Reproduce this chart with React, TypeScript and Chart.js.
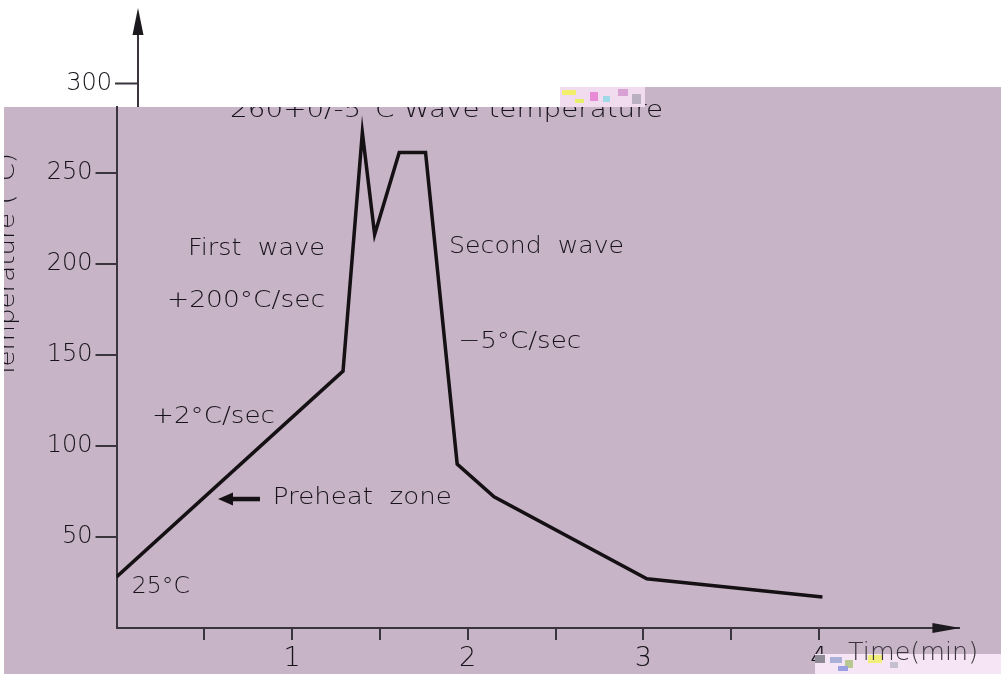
import React, { useEffect, useRef } from "react";
import { Chart, registerables } from "chart.js";

Chart.register(...registerables);

// ---- data ----
const timeMin = [0, 1.29, 1.4, 1.47, 1.61, 1.76, 1.94, 2.15, 3.02, 4.02];
const tempC = [28, 141, 272, 216, 261, 261, 90, 72, 27, 17];
const xTickValues = [0.5, 1, 1.5, 2, 2.5, 3, 3.5, 4];
const xTickLabels = ["", "1", "", "2", "", "3", "", "4"];
const yTickValues = [50, 100, 150, 200, 250];
const yTopTick = 300;
const noteTexts = [
  "First  wave",
  "+200°C/sec",
  "+2°C/sec",
  "Second  wave",
  "−5°C/sec",
  "Preheat  zone",
  "25°C",
  "260+0/-5°C Wave temperature",
];
const noteX = [0.407, 0.288, 0.202, 1.894, 1.946, 0.89, 0.087, 0.647];
const noteY = [204.7, 176, 112.7, 206, 153.5, 68.1, 19.4, 280.5];
const arrowFrom = { x: 0.817, y: 70.8 };
const arrowTo = { x: 0.578, y: 70.8 };
const xTitle = "Time(min)";
const yTitle = "Temperature (°C)";

// ---- styles (drawing only) ----
const noteWidths = [137, 158, 123, 175, 123, 179, 58, 433];
const MAUVE = "#c7b4c6";
const INK = "#17131a";
const FONT = "'DejaVu Sans'";
const W = "200";

function drawFitted(
  ctx: CanvasRenderingContext2D,
  text: string,
  x: number,
  y: number,
  w: number,
  size: number
) {
  ctx.save();
  ctx.font = `${W} ${size}px ${FONT}`;
  const m = ctx.measureText(text).width || 1;
  ctx.translate(x, y);
  ctx.scale(w / m, 1);
  ctx.textAlign = "left";
  ctx.textBaseline = "alphabetic";
  ctx.fillText(text, 0, 0);
  ctx.restore();
}

const decor = {
  id: "decor",
  beforeDraw(chart: any) {
    const ctx: CanvasRenderingContext2D = chart.ctx;
    const xs = chart.scales.x;
    const ys = chart.scales.y;
    ctx.save();
    ctx.fillStyle = "#ffffff";
    ctx.fillRect(0, 0, chart.width, chart.height);
    ctx.fillStyle = MAUVE;
    ctx.fillRect(4, 107, chart.width - 4, chart.height - 107);
    ctx.fillRect(645, 87, chart.width - 645, 20);

    // annotations
    ctx.fillStyle = INK;
    noteTexts.forEach((t, i) => {
      drawFitted(ctx, t, xs.getPixelForValue(noteX[i]), ys.getPixelForValue(noteY[i]), noteWidths[i], 23);
    });
    // cover top of header text
    ctx.fillStyle = "#ffffff";
    ctx.fillRect(200, 80, 360, 27);
    // noisy patch
    ctx.fillStyle = "#f1dcef";
    ctx.fillRect(560, 87, 85, 20);
    const bits: [string, number, number, number, number][] = [
      ["#f4ef6a", 562, 90, 14, 5],
      ["#e98ad6", 590, 92, 8, 9],
      ["#9fd8e6", 603, 96, 7, 6],
      ["#d7a1d3", 618, 89, 10, 7],
      ["#b9b0c2", 632, 94, 9, 10],
      ["#e6f06a", 575, 99, 9, 4],
    ];
    bits.forEach(([c, x, y, w, h]) => {
      ctx.fillStyle = c;
      ctx.fillRect(x, y, w, h);
    });

    // left rotated title
    ctx.fillStyle = INK;
    ctx.save();
    ctx.translate(14, 378);
    ctx.rotate(-Math.PI / 2);
    drawFitted(ctx, yTitle, 0, 0, 225, 23);
    ctx.restore();
    ctx.fillStyle = "#ffffff";
    ctx.fillRect(0, 100, 4, chart.height);
    ctx.restore();
  },
  afterDraw(chart: any) {
    const ctx: CanvasRenderingContext2D = chart.ctx;
    const ys = chart.scales.y;
    const xs = chart.scales.x;
    const area = chart.chartArea;
    ctx.save();
    // x axis arrow head
    ctx.fillStyle = "#1d1a1f";
    ctx.beginPath();
    ctx.moveTo(area.right + 1, area.bottom);
    ctx.lineTo(area.right - 27, area.bottom - 5);
    ctx.lineTo(area.right - 27, area.bottom + 5);
    ctx.closePath();
    ctx.fill();

    // upper axis fragment (shifted)
    const ux = 138;
    const ty = ys.getPixelForValue(yTopTick) + 2;
    ctx.strokeStyle = "#3a353c";
    ctx.lineWidth = 2;
    ctx.beginPath();
    ctx.moveTo(ux, 107);
    ctx.lineTo(ux, 30);
    ctx.moveTo(115, ty);
    ctx.lineTo(ux, ty);
    ctx.stroke();
    ctx.fillStyle = "#1d1a1f";
    ctx.beginPath();
    ctx.moveTo(ux, 8);
    ctx.lineTo(ux - 5.5, 35);
    ctx.lineTo(ux + 5.5, 35);
    ctx.closePath();
    ctx.fill();
    ctx.fillStyle = INK;
    ctx.font = `${W} 24px ${FONT}`;
    ctx.textAlign = "right";
    ctx.textBaseline = "middle";
    ctx.fillText(String(yTopTick), 112, ty);

    // preheat arrow
    const ax0 = xs.getPixelForValue(arrowFrom.x);
    const ay = ys.getPixelForValue(arrowFrom.y);
    const ax1 = xs.getPixelForValue(arrowTo.x);
    ctx.strokeStyle = "#141014";
    ctx.lineWidth = 4.5;
    ctx.beginPath();
    ctx.moveTo(ax0, ay);
    ctx.lineTo(ax1 + 12, ay);
    ctx.stroke();
    ctx.fillStyle = "#141014";
    ctx.beginPath();
    ctx.moveTo(ax1, ay);
    ctx.lineTo(ax1 + 15, ay - 6.5);
    ctx.lineTo(ax1 + 15, ay + 6.5);
    ctx.closePath();
    ctx.fill();

    // bottom-right noisy patch
    ctx.fillStyle = "#f6e6f5";
    ctx.fillRect(815, 654, chart.width - 815, chart.height - 654);
    const bits: [string, number, number, number, number][] = [
      ["#8e8a96", 815, 655, 10, 8],
      ["#aab0d8", 830, 657, 12, 6],
      ["#b8c890", 845, 660, 8, 8],
      ["#f1ee7a", 868, 655, 14, 8],
      ["#c6bfd0", 890, 662, 8, 6],
      ["#9aa0e0", 838, 666, 10, 5],
    ];
    bits.forEach(([c, x, y, w, h]) => {
      ctx.fillStyle = c;
      ctx.fillRect(x, y, w, h);
    });
    ctx.fillStyle = "#3a343d";
    drawFitted(ctx, xTitle, xs.getPixelForValue(4.166), area.bottom + 32, 130, 25);
    ctx.restore();
  },
};

export default function App() {
  const ref = useRef<HTMLCanvasElement | null>(null);
  useEffect(() => {
    if (!ref.current) return;
    const chart = new Chart(ref.current, {
      type: "line",
      data: {
        datasets: [
          {
            data: timeMin.map((t, i) => ({ x: t, y: tempC[i] })),
            borderColor: "#141014",
            borderWidth: 3.5,
            pointRadius: 0,
            tension: 0,
            fill: false,
          },
        ],
      },
      options: {
        animation: false,
        responsive: false,
        maintainAspectRatio: false,
        devicePixelRatio: 1,
        layout: { padding: { left: 0, top: 107, right: 41.6, bottom: 0 } },
        plugins: { legend: { display: false }, tooltip: { enabled: false } },
        scales: {
          x: {
            type: "linear",
            min: 0,
            max: 4.8,
            afterBuildTicks: (s: any) => {
              s.ticks = xTickValues.map((v) => ({ value: v }));
            },
            afterFit: (s: any) => {
              s.height = 46;
            },
            ticks: {
              autoSkip: false,
              maxRotation: 0,
              padding: 3,
              color: INK,
              font: { family: "DejaVu Sans", size: 27, weight: W as any },
              callback: (_v: any, i: number) => xTickLabels[i],
            },
            grid: { drawOnChartArea: false, drawTicks: true, tickLength: 12, color: "#3a353c", lineWidth: 2 },
            border: { display: true, color: "#3a353c", width: 2 },
          },
          y: {
            type: "linear",
            min: 0,
            max: 286,
            afterBuildTicks: (s: any) => {
              s.ticks = yTickValues.map((v) => ({ value: v }));
            },
            afterFit: (s: any) => {
              s.width = 116.5;
            },
            ticks: {
              autoSkip: false,
              padding: 3,
              color: INK,
              font: { family: "DejaVu Sans", size: 24, weight: W as any },
            },
            grid: { drawOnChartArea: false, drawTicks: true, tickLength: 21, color: "#3a353c", lineWidth: 2 },
            border: { display: true, color: "#3a353c", width: 2 },
          },
        },
      },
      plugins: [decor],
    });
    return () => chart.destroy();
  }, []);
  return (
    <div style={{ position: "absolute", left: 0, top: 0, width: 1001, height: 674, background: "#fff" }}>
      <canvas ref={ref} width={1001} height={674} style={{ display: "block" }} />
    </div>
  );
}
